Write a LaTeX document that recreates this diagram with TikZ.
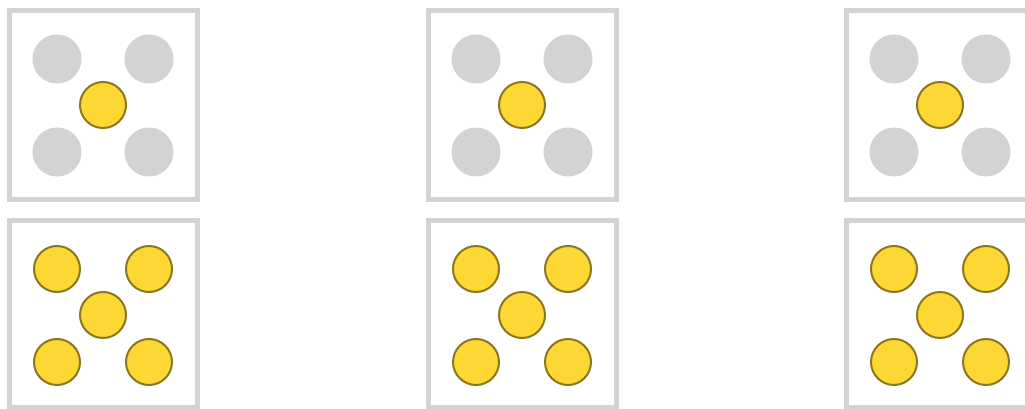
\documentclass[tikz,border=0pt]{standalone}
\definecolor{boxgray}{HTML}{D3D3D3}
\definecolor{dotgray}{HTML}{D3D3D3}
\definecolor{dotyellow}{HTML}{FDD835}
\definecolor{dotedge}{HTML}{8A7720}
\tikzset{
  diebox/.style={draw=boxgray, line width=5pt, fill=white},
  offdot/.style={circle, fill=dotgray, draw=none, minimum size=49pt, inner sep=0pt},
  ondot/.style={circle, fill=dotyellow, draw=dotedge, line width=2pt, minimum size=46pt, inner sep=0pt}
}
\begin{document}
\begin{tikzpicture}[x=1pt,y=-1pt]
\useasboundingbox (0,0) rectangle (1025,409);
\clip (0,0) rectangle (1025,409);
\foreach \i/\dx in {1/0, 2/419, 3/837} {
  % top die: only centre lit
  \begin{scope}[shift={(\dx,0)}]
    \draw[diebox] (9.5,10.5) rectangle (197.5,199.5);
    \node[offdot] (t\i a) at (57,59) {};
    \node[offdot] (t\i b) at (149,59) {};
    \node[offdot] (t\i c) at (57,152) {};
    \node[offdot] (t\i d) at (149,152) {};
    \node[ondot] (t\i e) at (103,105) {};
  \end{scope}
  % bottom die: all lit
  \begin{scope}[shift={(\dx,210)}]
    \draw[diebox] (9.5,10.5) rectangle (197.5,197.5);
    \node[ondot] (b\i a) at (57,59) {};
    \node[ondot] (b\i b) at (149,59) {};
    \node[ondot] (b\i c) at (57,152) {};
    \node[ondot] (b\i d) at (149,152) {};
    \node[ondot] (b\i e) at (103,105) {};
  \end{scope}
}
\end{tikzpicture}
\end{document}
